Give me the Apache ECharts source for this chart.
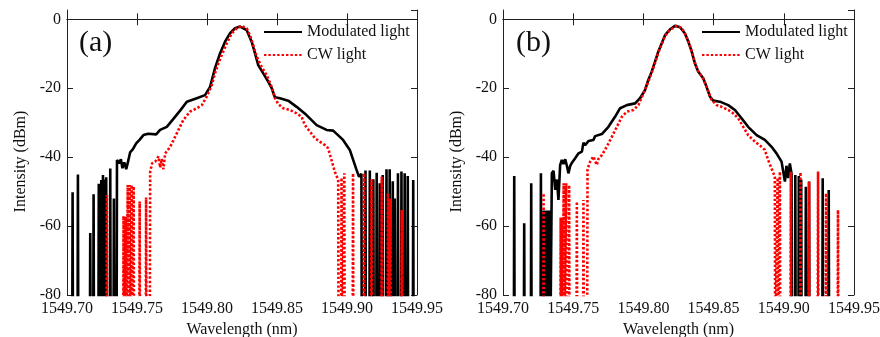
<!DOCTYPE html>
<html>
<head>
<meta charset="utf-8">
<script src="https://cdn.jsdelivr.net/npm/echarts@6/dist/echarts.min.js"></script>
<style>
  html, body { margin: 0; padding: 0; background: #fff; }
  #chart { width: 880px; height: 337px; }
</style>
</head>
<body>
<div id="chart"></div>
<script>
// wavelength offsets are relative to 1549.70 nm, intensity in dBm
const BASE = 1549.70
const FLOOR = -100 // below the -80 dBm axis, clipped

const xTicks = [1549.70, 1549.75, 1549.80, 1549.85, 1549.90, 1549.95]
const yTicks = [-80, -60, -40, -20, 0]

// (a) modulated light
const modALeftSpikes = [
  [0.0040, -50.2], [0.0078, -45], [0.0166, -62], [0.0190, -50.8], [0.0227, -47.7],
  [0.0245, -46.6], [0.0257, -45.2], [0.0270, -46.5], [0.0280, -45.8], [0.0309, -43.3],
  [0.0335, -52]
]
const modABody = [
  [0.0357, -40.8], [0.0373, -41.8], [0.0385, -40.6], [0.0396, -43.2], [0.0409, -41.5],
  [0.0423, -43.5], [0.0439, -40.8], [0.0451, -38.6], [0.0471, -37.7], [0.0494, -36],
  [0.0518, -35], [0.0546, -33.6], [0.0580, -33.2], [0.0594, -33.1], [0.0637, -33.4],
  [0.0665, -32.1], [0.0713, -31.2], [0.0760, -28.9], [0.0808, -26.5], [0.0856, -23.9],
  [0.0927, -22.9], [0.0986, -22], [0.1022, -19.6], [0.1057, -14.2], [0.1093, -9.9],
  [0.1129, -6.5], [0.1164, -4.1], [0.1200, -2.6], [0.1236, -2.1], [0.1283, -3.1],
  [0.1319, -6.5], [0.1343, -9.9], [0.1366, -13.3], [0.1402, -15.7], [0.1437, -18.1],
  [0.1462, -20], [0.1485, -22.6], [0.1521, -22.9], [0.1580, -23.6], [0.1640, -25.4],
  [0.1711, -27.8], [0.1783, -30.7], [0.1854, -32.1], [0.1901, -32.3], [0.1972, -35],
  [0.2020, -37.9], [0.2068, -43.7], [0.2086, -45.7], [0.2103, -44.8]
]
const modARightSpikes = [
  [0.2132, -43.9], [0.2163, -43.9], [0.2188, -46.4], [0.2212, -44.5], [0.2234, -47.6],
  [0.2255, -45.2], [0.2282, -43.5], [0.2305, -43.5], [0.2327, -47], [0.2341, -52],
  [0.2364, -44.7], [0.2389, -44.2], [0.2412, -44.7], [0.2434, -45.5], [0.2473, -46.6]
]

// (a) CW light
const cwALeftSpikes = [
  [0.0285, -51], [0.0404, -57.1], [0.0419, -57.3], [0.0434, -48.1], [0.0448, -48.1],
  [0.0462, -48.1], [0.0476, -48.5], [0.0519, -52.9], [0.0565, -51.7]
]
const cwABody = [
  [0.0594, -44.2], [0.0608, -41.8], [0.0630, -41.3], [0.0653, -39.8], [0.0665, -43],
  [0.0677, -40.5], [0.0689, -43.5], [0.0701, -38.9], [0.0737, -37], [0.0784, -33.1],
  [0.0831, -29.2], [0.0879, -26.8], [0.0927, -25.8], [0.0963, -24.9], [0.0998, -22.4],
  [0.1034, -19.1], [0.1057, -15.7], [0.1081, -12.8], [0.1105, -10.4], [0.1141, -7],
  [0.1176, -4.1], [0.1212, -2.6], [0.1248, -1.9], [0.1283, -2.6], [0.1307, -4.6],
  [0.1330, -7.5], [0.1355, -10.8], [0.1390, -13.8], [0.1426, -16.2], [0.1462, -19.6],
  [0.1485, -22.9], [0.1509, -24.6], [0.1544, -25.8], [0.1592, -26.3], [0.1640, -27.3],
  [0.1676, -28.3], [0.1699, -30.7], [0.1735, -32.6], [0.1771, -34.5], [0.1806, -35.5],
  [0.1842, -36.5], [0.1865, -37.4], [0.1889, -40.8], [0.1913, -44.2], [0.1937, -46.6]
]
const cwARightSpikes = [
  [0.1961, -46], [0.1981, -44.7], [0.2043, -44.7], [0.2122, -44.7], [0.2175, -46.4],
  [0.2248, -45.7], [0.2293, -50.5], [0.2310, -52], [0.2391, -55.3]
]

// (b) modulated light
const modBLeftSpikes = [
  [0.0080, -45.5], [0.0151, -59.2], [0.0201, -47.6], [0.0270, -44.7], [0.0290, -55.5],
  [0.0301, -55.5], [0.0311, -55.5], [0.0322, -55.5], [0.0333, -55.5]
]
const modBBody = [
  [0.0348, -44.6], [0.0360, -44], [0.0372, -49.5], [0.0384, -46.5], [0.0395, -52.4],
  [0.0407, -42.3], [0.0419, -40.8], [0.0431, -42], [0.0443, -40.6], [0.0455, -42.5],
  [0.0466, -44.7], [0.0479, -42.5], [0.0491, -41.6], [0.0514, -40.3], [0.0538, -38.9],
  [0.0562, -38.4], [0.0573, -35.8], [0.0585, -36.5], [0.0609, -35.3], [0.0644, -35],
  [0.0656, -33.9], [0.0704, -33.3], [0.0751, -31.2], [0.0798, -28.3], [0.0834, -25.8],
  [0.0882, -24.9], [0.0941, -24.4], [0.0976, -22.9], [0.1012, -20.5], [0.1035, -17.6],
  [0.1059, -15.2], [0.1083, -12.3], [0.1106, -9.4], [0.1130, -7], [0.1154, -4.6],
  [0.1190, -2.9], [0.1225, -1.9], [0.1261, -2.3], [0.1296, -4.1], [0.1320, -6.5],
  [0.1344, -9.4], [0.1367, -12.8], [0.1391, -15.2], [0.1426, -17.1], [0.1450, -19.6],
  [0.1474, -22.4], [0.1497, -23.6], [0.1545, -23.9], [0.1604, -24.9], [0.1652, -26.3],
  [0.1699, -28.7], [0.1746, -31.2], [0.1806, -33.6], [0.1865, -35], [0.1913, -37],
  [0.1948, -38.9], [0.1984, -41.3], [0.2008, -47.1], [0.2019, -42.5], [0.2031, -46.1],
  [0.2043, -41.8], [0.2055, -44.7]
]
const modBRightSpikes = [
  [0.2082, -45.2], [0.2107, -45.5], [0.2124, -46.5], [0.2157, -48.6], [0.2180, -47.1],
  [0.2277, -46.1], [0.2320, -49.5]
]

// (b) CW light
const cwBLeftSpikes = [
  [0.0289, -50.5], [0.0411, -57.5], [0.0422, -57.5], [0.0432, -47.6], [0.0450, -47.6],
  [0.0471, -48.1], [0.0526, -52.9], [0.0573, -52.4]
]
const cwBBody = [
  [0.0602, -43.5], [0.0621, -41.3], [0.0644, -39.8], [0.0668, -42.3], [0.0680, -40.5],
  [0.0704, -39.4], [0.0739, -37], [0.0775, -34.1], [0.0811, -31.2], [0.0846, -28.3],
  [0.0882, -26.8], [0.0929, -26.3], [0.0964, -24.9], [0.1000, -21.5], [0.1035, -18.1],
  [0.1059, -15.5], [0.1083, -12.6], [0.1106, -9.7], [0.1130, -7.2], [0.1154, -4.8],
  [0.1190, -3], [0.1237, -1.9], [0.1273, -2.5], [0.1296, -4.1], [0.1320, -6.3],
  [0.1344, -9.2], [0.1367, -12.6], [0.1391, -15.2], [0.1426, -17.1], [0.1450, -19.6],
  [0.1474, -22.2], [0.1486, -23.4], [0.1522, -24.9], [0.1557, -25.4], [0.1604, -26.3],
  [0.1640, -27.3], [0.1675, -28.7], [0.1711, -31.2], [0.1746, -33.6], [0.1794, -35.5],
  [0.1841, -37], [0.1865, -37.9], [0.1888, -40.8], [0.1913, -43.3], [0.1936, -45.7]
]
const cwBRightSpikes = [
  [0.1956, -46], [0.1972, -44.2], [0.2050, -44.2], [0.2119, -44.4], [0.2180, -47.1],
  [0.2244, -44.2], [0.2301, -50.5], [0.2386, -55.3]
]

const HALF = 0.0003 // half width of one noise sample

function spikes(list) {
  const out = []
  list.forEach(([dx, v]) => {
    out.push([BASE + dx - HALF, FLOOR], [BASE + dx, v], [BASE + dx + HALF, FLOOR])
  })
  return out
}
function trace(left, body, right) {
  const first = body[0][0]
  const last = body[body.length - 1][0]
  return [
    ...spikes(left),
    [BASE + first - HALF, FLOOR],
    ...body.map(([dx, v]) => [BASE + dx, v]),
    [BASE + last + HALF, FLOOR],
    ...spikes(right)
  ]
}

const FONT = '"Liberation Serif", "Times New Roman", serif'
const ink = '#111'
const grids = [
  { left: 67, top: 10, width: 350, height: 285, outerBoundsMode: 'none' },
  { left: 503, top: 10, width: 351, height: 285, outerBoundsMode: 'none' }
]

const xAxis = []
const yAxis = []
grids.forEach((g, i) => {
  xAxis.push({
    gridIndex: i, type: 'value', position: 'bottom',
    min: xTicks[0], max: xTicks[xTicks.length - 1], interval: 0.05,
    axisLine: { lineStyle: { color: '#222', width: 1 } },
    axisTick: { inside: true, length: 6, lineStyle: { color: '#222' } },
    axisLabel: { color: ink, fontFamily: FONT, fontSize: 16, margin: 6,
      formatter: (v) => v.toFixed(2) },
    splitLine: { show: false },
    name: 'Wavelength (nm)', nameLocation: 'middle', nameGap: 24,
    nameTextStyle: { color: ink, fontFamily: FONT, fontSize: 16 }
  })
  xAxis.push({
    gridIndex: i, type: 'value', position: 'top',
    min: xTicks[0], max: xTicks[xTicks.length - 1], interval: 0.05,
    axisLine: { lineStyle: { color: '#222', width: 1 } },
    axisTick: { inside: true, length: 6, lineStyle: { color: '#222' } },
    axisLabel: { show: false }, splitLine: { show: false }
  })
  yAxis.push({
    gridIndex: i, type: 'value', position: 'left',
    min: yTicks[0], max: 2.7, interval: 20,
    axisLine: { show: true, lineStyle: { color: '#222', width: 1 } },
    axisTick: { show: true, inside: true, length: 6, lineStyle: { color: '#222' } },
    axisLabel: { color: ink, fontFamily: FONT, fontSize: 16, margin: 6, showMaxLabel: false },
    splitLine: { show: false },
    name: 'Intensity (dBm)', nameLocation: 'middle', nameGap: 38,
    nameTextStyle: { color: ink, fontFamily: FONT, fontSize: 16, padding: [0, 18, 0, 0] }
  })
  yAxis.push({
    gridIndex: i, type: 'value', position: 'right',
    min: yTicks[0], max: 2.7, interval: 20,
    axisLine: { show: true, lineStyle: { color: '#222', width: 1 } },
    axisTick: { show: true, inside: true, length: 6, lineStyle: { color: '#222' } },
    axisLabel: { show: false }, splitLine: { show: false }
  })
})

const modStyle = { color: '#000', width: 2.6, type: 'solid' }
const cwStyle = { color: '#ff0000', width: 2.6, type: [2.4, 2] }

function line(name, data, idx, style) {
  return {
    name, type: 'line', data,
    xAxisIndex: idx * 2, yAxisIndex: idx * 2,
    symbol: 'none', clip: true, animation: false,
    itemStyle: { color: style.color },
    lineStyle: style, z: name === 'CW light' ? 3 : 2
  }
}

const series = [
  line('Modulated light', trace(modALeftSpikes, modABody, modARightSpikes), 0, modStyle),
  line('CW light', trace(cwALeftSpikes, cwABody, cwARightSpikes), 0, cwStyle),
  line('Modulated light', trace(modBLeftSpikes, modBBody, modBRightSpikes), 1, modStyle),
  line('CW light', trace(cwBLeftSpikes, cwBBody, cwBRightSpikes), 1, cwStyle)
]

const legendBase = {
  orient: 'vertical', top: 24, padding: 0,
  itemWidth: 38, itemHeight: 14, itemGap: 7,
  data: ['Modulated light', 'CW light'],
  itemStyle: { opacity: 0 },
  textStyle: { color: ink, fontFamily: FONT, fontSize: 16 }
}

const chart = echarts.init(document.getElementById('chart'), null, { renderer: 'canvas' })
chart.setOption({
  animation: false,
  backgroundColor: '#fff',
  grid: grids,
  xAxis, yAxis, series,
  legend: [
    Object.assign({ left: 263 }, legendBase),
    Object.assign({ left: 701 }, legendBase)
  ],
  graphic: [
    { type: 'text', left: 79, top: 28, style: { text: '(a)', font: '30px ' + FONT, fill: ink } },
    { type: 'text', left: 516, top: 28, style: { text: '(b)', font: '30px ' + FONT, fill: ink } }
  ]
})
</script>
</body>
</html>
